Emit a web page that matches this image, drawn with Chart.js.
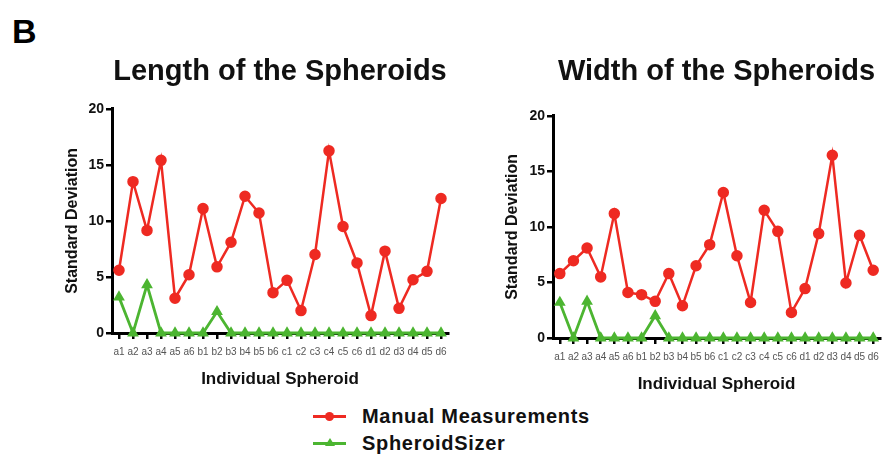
<!DOCTYPE html>
<html>
<head>
<meta charset="utf-8">
<script src="https://cdn.jsdelivr.net/npm/chart.js@4.4.0/dist/chart.umd.min.js"></script>
<style>
  body { margin: 0; background: #fff; width: 887px; height: 456px; position: relative; overflow: hidden;
         font-family: "Liberation Sans", Arial, sans-serif; }
  #panel { position: absolute; left: 12px; top: 12px; font-weight: bold; font-size: 34px; }
  .box { position: absolute; }
  #legend { position: absolute; left: 313px; top: 403px; }
  .item { position: relative; height: 27px; }
  .swatch { position: absolute; left: 0; top: 12px; width: 33px; height: 3px; }
  .mark { position: absolute; }
  .txt { position: absolute; left: 49px; top: 1px; font-weight: bold; font-size: 20px; letter-spacing: 0.7px;
         white-space: nowrap; line-height: 24px; color: #111; }
</style>
</head>
<body>
<div id="panel">B</div>
<div class="box" style="left:58px;top:50px;width:402px;height:345px"><canvas id="lengthChart"></canvas></div>
<div class="box" style="left:498px;top:50px;width:389px;height:350px"><canvas id="widthChart"></canvas></div>
<div id="legend"></div>

<script>
const spheroids = ['a1','a2','a3','a4','a5','a6','b1','b2','b3','b4','b5','b6',
                   'c1','c2','c3','c4','c5','c6','d1','d2','d3','d4','d5','d6'];

// length of the spheroids
const lengthManual = [5.6, 13.5, 9.15, 15.4, 3.1, 5.2, 11.1, 5.9, 8.1, 12.2, 10.7, 3.6,
                      4.7, 2.0, 7.0, 16.25, 9.5, 6.25, 1.55, 7.3, 2.2, 4.75, 5.5, 12.0];
const lengthSizer = [3.2, 0, 4.3, 0, 0, 0, 0, 1.9, 0, 0, 0, 0,
                     0, 0, 0, 0, 0, 0, 0, 0, 0, 0, 0, 0];

// width of the spheroids
const widthManual = [5.8, 6.95, 8.1, 5.5, 11.2, 4.1, 3.9, 3.3, 5.8, 2.9, 6.5, 8.4,
                     13.1, 7.4, 3.2, 11.5, 9.6, 2.3, 4.45, 9.4, 16.45, 4.95, 9.25, 6.1];
const widthSizer = [3.2, 0, 3.3, 0, 0, 0, 0, 2.0, 0, 0, 0, 0,
                    0, 0, 0, 0, 0, 0, 0, 0, 0, 0, 0, 0];

const yTicks = [0, 5, 10, 15, 20];

const RED = '#ee2a22';
const GREEN = '#4cb531';
const FONT = '"Liberation Sans", Arial, sans-serif';

function makeChart(id, title, manual, sizer, yWidth, padRight, titleBottom) {
    const ctx = document.getElementById(id).getContext('2d');
    return new Chart(ctx, {
        type: 'line',
        data: {
            labels: spheroids,
            datasets: [{
                label: 'Manual Measurements',
                data: manual,
                borderColor: RED,
                backgroundColor: RED,
                borderWidth: 2.5,
                pointStyle: 'circle',
                pointRadius: 4.5,
                tension: 0,
                clip: false
            }, {
                label: 'SpheroidSizer',
                data: sizer,
                borderColor: GREEN,
                backgroundColor: GREEN,
                borderWidth: 2.8,
                pointStyle: 'triangle',
                pointRadius: 4,
                tension: 0,
                clip: false
            }]
        },
        options: {
            responsive: true,
            maintainAspectRatio: false,
            animation: false,
            layout: { padding: { left: 0, right: padRight, top: 0, bottom: 0 } },
            plugins: {
                legend: { display: false },
                tooltip: { enabled: false },
                title: {
                    display: true,
                    text: title,
                    fullSize: false,
                    color: '#111',
                    font: { family: FONT, size: 29, weight: 'bold' },
                    padding: { top: 5, bottom: titleBottom }
                }
            },
            scales: {
                x: {
                    offset: true,
                    afterFit: s => { s.height = 62; },
                    border: { display: true, color: '#000', width: 3 },
                    grid: { drawOnChartArea: false, drawTicks: true, tickLength: 6, lineWidth: 2.5, color: '#000', offset: false },
                    ticks: { autoSkip: false, maxRotation: 0, minRotation: 0, padding: 7, color: '#555',
                             font: { family: FONT, size: 10 } },
                    title: { display: true, text: 'Individual Spheroid', color: '#111',
                             font: { family: FONT, size: 17, weight: 'bold' }, padding: { top: 0, bottom: 5 } }
                },
                y: {
                    min: 0,
                    max: 20,
                    afterFit: s => { s.width = yWidth; },
                    afterBuildTicks: s => { s.ticks = yTicks.map(v => ({ value: v })); },
                    border: { display: true, color: '#000', width: 3 },
                    grid: { drawOnChartArea: false, drawTicks: true, tickLength: 6, lineWidth: 2.5, color: '#000' },
                    ticks: { padding: 2, color: '#111', font: { family: FONT, size: 14, weight: 'bold' } },
                    title: { display: true, text: 'Standard Deviation', color: '#111',
                             font: { family: FONT, size: 16, weight: 'bold' }, padding: { top: 5, bottom: 5 } }
                }
            }
        }
    });
}

const chartLength = makeChart('lengthChart', 'Length of the Spheroids', lengthManual, lengthSizer, 54, 12, 19);
const chartWidth = makeChart('widthChart', 'Width of the Spheroids', widthManual, widthSizer, 55, 4, 26);

// legend built from the datasets
const legend = document.getElementById('legend');
chartLength.data.datasets.forEach(ds => {
    const item = document.createElement('div');
    item.className = 'item';
    const sw = document.createElement('div');
    sw.className = 'swatch';
    sw.style.background = ds.borderColor;
    const mk = document.createElement('div');
    mk.className = 'mark';
    if (ds.pointStyle === 'circle') {
        mk.style.cssText = 'left:12px;top:9px;width:9px;height:9px;border-radius:50%;background:' + ds.borderColor;
    } else {
        mk.style.cssText = 'left:12px;top:8px;width:0;height:0;border-left:5px solid transparent;border-right:5px solid transparent;border-bottom:8px solid ' + ds.borderColor;
    }
    const tx = document.createElement('div');
    tx.className = 'txt';
    tx.textContent = ds.label;
    item.appendChild(sw);
    item.appendChild(mk);
    item.appendChild(tx);
    legend.appendChild(item);
});
</script>
</body>
</html>
